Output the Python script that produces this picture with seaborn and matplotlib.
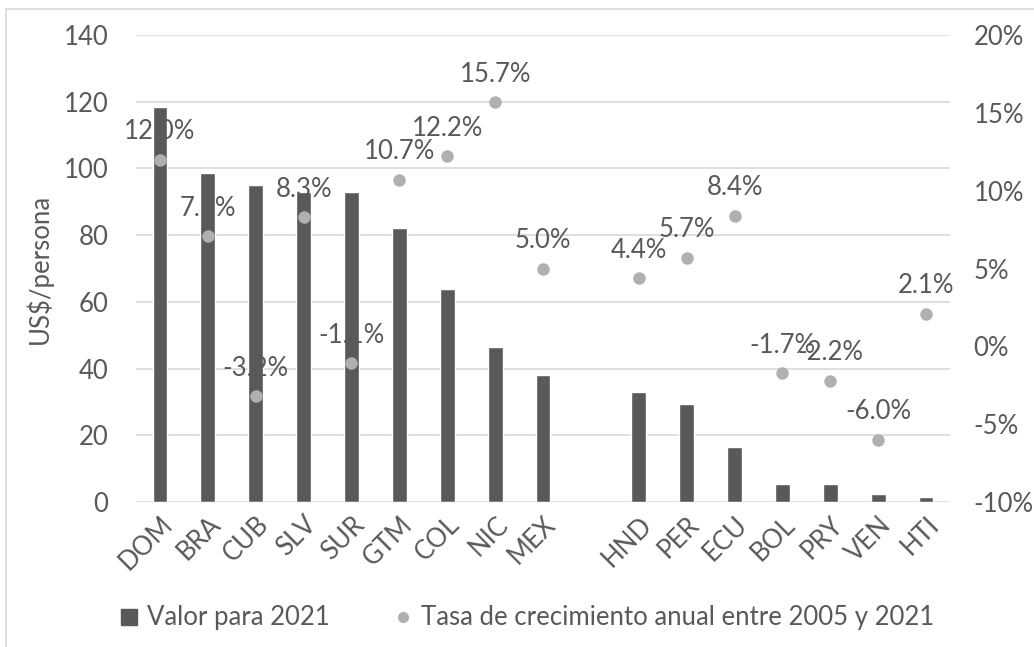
import matplotlib
matplotlib.use('Agg')
import matplotlib.pyplot as plt
import matplotlib.ticker as mticker
from matplotlib.patches import Rectangle
from matplotlib.lines import Line2D
import pandas as pd
import seaborn as sns

# 数据
paises = ['DOM', 'BRA', 'CUB', 'SLV', 'SUR', 'GTM', 'COL', 'NIC', 'MEX',
          'HND', 'PER', 'ECU', 'BOL', 'PRY', 'VEN', 'HTI']
valor_2021 = [118.5, 98.5, 95.0, 93.0, 93.0, 82.0, 64.0, 46.5, 38.0,
              33.0, 29.5, 16.5, 5.5, 5.3, 2.5, 1.5]
tasa = [12.0, 7.1, -3.2, 8.3, -1.1, 10.7, 12.2, 15.7, 5.0,
        4.4, 5.7, 8.4, -1.7, -2.2, -6.0, 2.1]
# hueco entre MEX y HND
orden = paises[:9] + [' '] + paises[9:]

df = pd.DataFrame({'pais': paises, 'valor': valor_2021, 'tasa': tasa})

sns.set_theme(style='white')
plt.rcParams['font.family'] = ['Lato', 'DejaVu Sans']
texto = '#595959'
fs = 18.5

fig = plt.figure(figsize=(10.34, 6.47), dpi=100)
ax = fig.add_axes([136 / 1034, 1 - 502 / 647, 814 / 1034, 467 / 647])

# marco exterior
fig.patches.append(Rectangle((6 / 1034, -0.1), 1.2, 1 - 9 / 647 + 0.1,
                             transform=fig.transFigure, fill=False,
                             edgecolor='#d9d9d9', linewidth=1.2, zorder=0))

sns.barplot(data=df, x='pais', y='valor', order=orden, color='#595959',
            width=0.31, saturation=1, ax=ax, zorder=3)
ax.set_ylim(0, 140)
ax.set_yticks(range(0, 141, 20))
ax.grid(True, axis='y', color='#d9d9d9', linewidth=1.2, zorder=0)
ax.set_axisbelow(True)
for s in ax.spines.values():
    s.set_visible(False)
ax.set_xlabel('')
ax.set_ylabel('US$/persona', fontsize=fs, color=texto)
ax.yaxis.set_label_coords(-0.102, 0.5)
ax.tick_params(axis='y', labelsize=fs, labelcolor=texto, length=0, pad=20)
ax.tick_params(axis='x', labelsize=fs, labelcolor=texto, length=0, pad=7)

ax2 = ax.twinx()
sns.stripplot(data=df, x='pais', y='tasa', order=orden, jitter=False,
              color='#b0b0b0', size=9, linewidth=0, ax=ax2, zorder=4)
ax2.set_ylim(-10, 20)
ax2.set_yticks(range(-10, 21, 5))
ax2.yaxis.set_major_formatter(mticker.FuncFormatter(lambda v, p: f'{v:.0f}%'))
ax2.tick_params(axis='y', labelsize=fs, labelcolor=texto, length=0, pad=17)
ax2.set_ylabel('')
ax2.grid(False)
for s in ax2.spines.values():
    s.set_visible(False)

# etiquetas de datos
for p, t in zip(paises, tasa):
    ax2.annotate(f'{t:.1f}%', (orden.index(p), t), xytext=(0, 20),
                 textcoords='offset points', ha='center', va='center',
                 fontsize=fs, color=texto, zorder=5)

ax.set_xticks(range(len(orden)))
ax.set_xticklabels(orden, rotation=45, ha='right', rotation_mode='anchor')
ax.set_xlim(-0.5, len(orden) - 0.5)

handles = [Line2D([], [], marker='s', linestyle='', color='#595959', markersize=12),
           Line2D([], [], marker='o', linestyle='', color='#b0b0b0', markersize=7)]
fig.legend(handles, ['Valor para 2021', 'Tasa de crecimiento anual entre 2005 y 2021'],
           loc='center', bbox_to_anchor=(528 / 1034, 1 - 618 / 647), ncol=2,
           frameon=False, fontsize=fs, labelcolor=texto, handlelength=0.5,
           handletextpad=0.45, columnspacing=2.6)

fig.savefig('out.png', dpi=100)
